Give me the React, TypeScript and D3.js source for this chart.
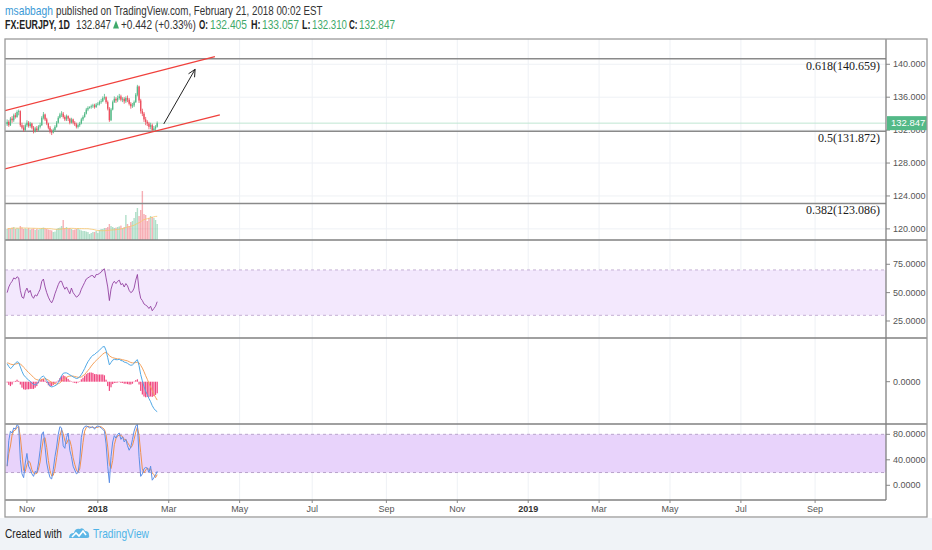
import * as d3 from 'd3';
import React from 'react';

// EURJPY daily bars, weekdays from 2017-10-16 to 2018-02-20
const firstDate = '2017-10-16';
const firstOpen = 132.7;
const closes = [
  133.0, 132.6, 133.4, 133.2, 133.8, 133.6, 134.2, 134.3, 132.6, 132.3,
  132.0, 132.6, 132.9, 132.5, 132.8, 132.3, 131.9, 132.2, 132.0, 132.4,
  132.6, 133.5, 133.9, 133.3, 132.8, 132.3, 131.9, 131.7, 132.0, 132.4,
  132.9, 133.5, 133.9, 134.0, 133.6, 133.3, 133.7, 133.4, 132.9, 133.3,
  132.9, 132.7, 132.4, 132.6, 132.8, 133.3, 133.6, 134.0, 134.5, 134.7,
  134.8, 134.9, 135.0, 134.8, 135.1, 135.2, 135.4, 135.5, 135.9, 136.0,
  135.4, 134.6, 133.2, 134.5, 135.4, 135.8, 135.6, 135.9, 136.1, 135.7,
  135.8, 135.5, 135.9, 135.7, 135.2, 134.9, 135.0, 135.4, 136.3, 137.3,
  135.6, 134.3, 134.0, 133.3, 133.0, 132.8, 132.4, 132.6, 132.0, 132.2,
  132.405, 132.847,
];
const highs = [
  133.3, 133.2, 133.6, 133.7, 134.0, 134.1, 134.4, 134.5, 134.4, 132.9,
  132.6, 132.8, 133.2, 133.1, 133.0, 132.9, 132.5, 132.4, 132.5, 132.6,
  132.9, 133.7, 134.2, 134.0, 133.5, 132.9, 132.5, 132.1, 132.2, 132.6,
  133.1, 133.7, 134.1, 134.3, 134.2, 133.8, 133.9, 133.8, 133.5, 133.5,
  133.4, 133.1, 132.9, 132.8, 133.0, 133.5, 133.8, 134.2, 134.7, 134.9,
  134.9, 135.1, 135.2, 135.2, 135.3, 135.4, 135.6, 135.8, 136.1, 136.4,
  136.1, 135.6, 134.8, 134.7, 135.6, 136.1, 136.0, 136.2, 136.4, 136.3,
  136.0, 136.0, 136.1, 136.2, 135.9, 135.4, 135.3, 135.6, 136.5, 137.5,
  137.4, 135.8, 134.6, 134.2, 133.6, 133.2, 133.0, 132.9, 132.8, 132.5,
  132.6, 133.057,
];
const lows = [
  132.5, 132.4, 132.5, 132.9, 133.0, 133.4, 133.5, 133.8, 132.4, 132.1,
  131.8, 131.9, 132.4, 132.3, 132.3, 132.1, 131.6, 131.7, 131.8, 131.9,
  132.2, 132.5, 133.3, 133.1, 132.6, 132.1, 131.6, 131.4, 131.6, 131.9,
  132.3, 132.8, 133.4, 133.6, 133.4, 133.1, 133.1, 133.1, 132.7, 132.8,
  132.7, 132.5, 132.2, 132.2, 132.4, 132.7, 133.1, 133.5, 133.9, 134.3,
  134.6, 134.6, 134.7, 134.6, 134.7, 135.0, 135.0, 135.2, 135.4, 135.7,
  135.2, 134.4, 133.0, 133.1, 134.4, 135.3, 135.3, 135.4, 135.7, 135.5,
  135.4, 135.2, 135.3, 135.4, 135.0, 134.6, 134.7, 134.8, 135.3, 136.1,
  135.3, 134.0, 133.7, 133.0, 132.6, 132.5, 132.1, 132.1, 131.9, 131.9,
  131.9, 132.31,
];
const volumes = [
  55, 60, 58, 62, 65, 55, 60, 58, 70, 62,
  55, 58, 55, 60, 52, 55, 58, 50, 55, 52,
  55, 60, 62, 58, 55, 52, 50, 48, 40, 42,
  55, 60, 62, 70, 100, 60, 65, 58, 60, 55,
  50, 52, 55, 58, 52, 48, 45, 45, 42, 40,
  30, 35, 40, 40, 45, 35, 50, 55, 55, 60,
  60, 65, 80, 70, 65, 60, 62, 65, 68, 72,
  60, 65, 125, 80, 70, 90, 95, 110, 140, 160,
  120, 150, 245, 130, 125, 95, 110, 120, 115, 110,
  100, 80,
];
const rsi = [
  50, 55, 58, 60, 63, 62, 64, 63, 52, 46,
  45, 51, 54, 50, 52, 47, 45, 48, 47, 50,
  53, 60, 62, 55, 50, 46, 43, 41, 44, 49,
  53, 57, 60, 60, 56, 53, 55, 52, 49, 54,
  50, 48, 46, 47, 49, 53, 56, 59, 62, 63,
  64, 65, 65, 63, 66, 66, 67, 68, 70, 71,
  63, 55, 43, 53, 58, 60, 58, 60, 61, 57,
  58, 55, 58, 56, 52, 50, 51, 54, 61, 66,
  52, 45, 43, 40, 39, 38, 36, 38, 34, 36,
  38, 42,
];
const macdLine = [
  0.45, 0.38, 0.33, 0.36, 0.42, 0.46, 0.5, 0.48, 0.37, 0.26,
  0.17, 0.12, 0.08, 0.04, 0.01, -0.03, -0.07, -0.08, -0.06, 0.0,
  0.08, 0.12, 0.14, 0.1, 0.03, -0.05, -0.11, -0.13, -0.12, -0.1,
  -0.08, -0.02, 0.06, 0.15, 0.21, 0.22, 0.22, 0.2, 0.17, 0.15,
  0.12, 0.1, 0.08, 0.09, 0.12, 0.18, 0.25, 0.33, 0.42, 0.5,
  0.56, 0.62, 0.66, 0.68, 0.72, 0.75, 0.79, 0.83, 0.87, 0.88,
  0.78, 0.6, 0.42, 0.48, 0.54, 0.56, 0.55, 0.55, 0.56, 0.53,
  0.52, 0.49, 0.48, 0.46, 0.43, 0.41, 0.42, 0.46, 0.52, 0.55,
  0.4, 0.18, 0.02, -0.12, -0.24, -0.32, -0.42, -0.5, -0.6, -0.67,
  -0.72, -0.75,
];
const signalLine = [
  0.47, 0.46, 0.44, 0.43, 0.43, 0.44, 0.45, 0.46, 0.44, 0.41,
  0.36, 0.32, 0.27, 0.23, 0.19, 0.15, 0.11, 0.07, 0.05, 0.04,
  0.04, 0.05, 0.07, 0.07, 0.06, 0.04, 0.01, -0.02, -0.04, -0.05,
  -0.06, -0.05, -0.03, 0.01, 0.05, 0.08, 0.11, 0.13, 0.14, 0.14,
  0.14, 0.13, 0.12, 0.11, 0.11, 0.12, 0.15, 0.18, 0.23, 0.28,
  0.33, 0.39, 0.44, 0.49, 0.53, 0.57, 0.61, 0.65, 0.69, 0.72,
  0.73, 0.71, 0.65, 0.62, 0.6, 0.59, 0.58, 0.57, 0.57, 0.56,
  0.55, 0.54, 0.53, 0.52, 0.5, 0.48, 0.47, 0.47, 0.48, 0.49,
  0.47, 0.41, 0.34, 0.25, 0.15, 0.06, -0.04, -0.13, -0.22, -0.31,
  -0.39, -0.46,
];
const stochK = [
  30, 70, 85, 82, 90, 88, 95, 93, 40, 18,
  12, 35, 50, 30, 25, 18, 14, 22, 20, 35,
  55, 80, 84, 60, 35, 22, 12, 10, 25, 45,
  60, 80, 92, 90, 62, 58, 75, 82, 55, 45,
  30, 24, 18, 20, 38, 75, 88, 92, 93, 92,
  90, 91, 92, 88, 92, 93, 92, 90, 88, 85,
  65, 30, 4, 45, 68, 78, 74, 80, 82, 72,
  76, 68, 72, 62, 55, 60, 72, 85, 93, 96,
  45, 14, 18, 26, 28, 27, 20, 30, 8, 12,
  16, 22,
];

const priceTicks = [120, 124, 128, 132, 136, 140];
const rsiTicks = [25, 50, 75];
const rsiBand = [30, 70];
const macdTicks = [0];
const stochTicks = [0, 40, 80];
const stochBand = [20, 80];

const fibLevels = [
  { ratio: '0.618', price: 140.659 },
  { ratio: '0.5', price: 131.872 },
  { ratio: '0.382', price: 123.086 },
];
// drawings anchored on (bar date, price)
const channelLines = [
  [{ date: '2017-10-12', price: 134.33 }, { date: '2018-04-10', price: 140.92 }],
  [{ date: '2017-10-12', price: 127.25 }, { date: '2018-04-13', price: 133.84 }],
];
const arrowLine = [{ date: '2018-02-26', price: 132.75 }, { date: '2018-03-23', price: 139.39 }];

const UP = '#53b987';
const DOWN = '#eb4d5c';

const W = 932;
const H = 550;
const L = 5;
const R = 886;
const RR = 927;
const panes = { main: [39, 240], rsi: [240, 338], macd: [338, 424], stoch: [424, 500] };
const axisBottom = 517;
const FONT = "'Liberation Sans', Arial, sans-serif";

const dayKey = d3.timeFormat('%Y-%m-%d');
const days = d3.timeDay
  .range(new Date(2017, 9, 2), new Date(2019, 11, 1))
  .filter(d => d.getDay() !== 0 && d.getDay() !== 6);
const idxOf = (s: string) => days.findIndex(d => dayKey(d) === s);
const firstBar = idxOf(firstDate);

const opens = closes.map((c, i) => (i === 0 ? firstOpen : closes[i - 1]));
const volMa = volumes.map((_, i) => d3.mean(volumes.slice(Math.max(0, i - 19), i + 1)) as number);
const stochD = stochK.map((_, i) => d3.mean(stochK.slice(Math.max(0, i - 2), i + 1)) as number);
const hist = macdLine.map((m, i) => m - signalLine[i]);

// header/footer text is narrow in the original, squeeze each piece to its width
const measureCtx = document.createElement('canvas').getContext('2d');
const textWidth = (s: string, bold: boolean) => {
  if (!measureCtx) return s.length * 6;
  measureCtx.font = `${bold ? 'bold ' : ''}12px 'Liberation Sans', Arial, sans-serif`;
  return measureCtx.measureText(s).width;
};

type Piece = { text: string; x: number; w: number; fill: string; bold?: boolean };
const Squeezed = ({ p, y }: { p: Piece; y: number }) => (
  <text
    transform={`translate(${p.x},${y}) scale(${p.w / textWidth(p.text, !!p.bold)},1)`}
    fontSize={12}
    fontFamily={FONT}
    fontWeight={p.bold ? 'bold' : 'normal'}
    fill={p.fill}
  >
    {p.text}
  </text>
);

export default function App() {
  const x = d3.scaleLinear().domain([firstBar - 1.3, firstBar + 533]).range([L, R]);
  const bx = (i: number) => x(firstBar + i);
  const yP = d3.scaleLinear().domain([118.65, 143.07]).range([panes.main[1], panes.main[0]]);
  const yV = d3.scaleLinear().domain([0, 250]).range([panes.main[1], panes.main[1] - 50]);
  const yR = d3.scaleLinear().domain([10, 96.4]).range([panes.rsi[1], panes.rsi[0]]);
  const yM = d3.scaleLinear().domain([-1.0575, 1.0925]).range([panes.macd[1], panes.macd[0]]);
  const yS = d3.scaleLinear().domain([-23.1, 96.2]).range([panes.stoch[1], panes.stoch[0]]);

  const monthTicks: { i: number; label: string; bold: boolean }[] = [];
  days.forEach((d, k) => {
    if (k === 0 || d.getMonth() === days[k - 1].getMonth() || d.getMonth() % 2 !== 0) return;
    if (x(k) < L + 10 || x(k) > R - 20) return;
    const jan = d.getMonth() === 0;
    monthTicks.push({ i: k, label: jan ? d3.timeFormat('%Y')(d) : d3.timeFormat('%b')(d), bold: jan });
  });

  const line = (ys: d3.ScaleLinear<number, number>) =>
    d3.line<number>().x((_, i) => bx(i)).y(v => ys(v));

  const fmt3 = d3.format('.3f');
  const n = closes.length - 1;
  const change = closes[n] - closes[n - 1];
  const pct = (change / closes[n - 1]) * 100;
  const green = '#3fa96a';

  const anchor = (p: { date: string; price: number }) => [x(idxOf(p.date)), yP(p.price)];
  const [a0, a1] = arrowLine.map(anchor);
  const ang = Math.atan2(a1[1] - a0[1], a1[0] - a0[0]);
  const head = [ang + Math.PI - 0.45, ang + Math.PI + 0.45].map(t => [a1[0] + 8 * Math.cos(t), a1[1] + 8 * Math.sin(t)]);

  const lastY = yP(closes[n]);
  const gridColor = '#eef1f5';

  const line1: Piece[] = [
    { text: 'msabbagh', x: 5, w: 48, fill: '#3c9ad6' },
    { text: 'published on TradingView.com, February 21, 2018 00:02 EST', x: 56, w: 267, fill: '#333' },
  ];
  const line2: Piece[] = [
    { text: 'FX:EURJPY, 1D', x: 5, w: 65, fill: '#222', bold: true },
    { text: fmt3(closes[n]), x: 76, w: 35, fill: '#333' },
    { text: `+${fmt3(change)} (+${d3.format('.2f')(pct)}%)`, x: 121, w: 75, fill: '#333' },
    { text: 'O:', x: 199, w: 9, fill: '#222', bold: true },
    { text: fmt3(opens[n]), x: 210, w: 37, fill: green },
    { text: 'H:', x: 251, w: 9.5, fill: '#222', bold: true },
    { text: fmt3(highs[n]), x: 262, w: 37, fill: green },
    { text: 'L:', x: 302, w: 8.5, fill: '#222', bold: true },
    { text: fmt3(lows[n]), x: 312, w: 35, fill: green },
    { text: 'C:', x: 349, w: 8.5, fill: '#222', bold: true },
    { text: fmt3(closes[n]), x: 359, w: 36, fill: green },
  ];
  const footer: Piece[] = [
    { text: 'Created with', x: 5, w: 57, fill: '#222' },
    { text: 'TradingView', x: 93, w: 56, fill: '#4fb3e8' },
  ];

  return (
    <svg
      width={W}
      height={H}
      style={{ position: 'absolute', left: 0, top: 0, background: '#fff' }}
      fontFamily={FONT}
    >
      <defs>
        {Object.entries(panes).map(([k, [t, b]]) => (
          <clipPath id={`clip-${k}`} key={k}>
            <rect x={L} y={t} width={R - L} height={b - t} />
          </clipPath>
        ))}
      </defs>

      {/* footer background */}
      <rect x={0} y={axisBottom + 1} width={W} height={H - axisBottom} fill="#f0f3f7" />

      {/* header */}
      {line1.map((p, k) => <Squeezed key={k} p={p} y={15} />)}
      <path d="M113,28.5 L116,20.5 L119,28.5 Z" fill={green} />
      {line2.map((p, k) => <Squeezed key={k} p={p} y={29} />)}

      {/* grid */}
      {monthTicks.map(t => (
        <line key={t.i} x1={x(t.i)} x2={x(t.i)} y1={panes.main[0]} y2={panes.stoch[1]} stroke={gridColor} />
      ))}
      {priceTicks.map(t => (
        <line key={t} x1={L} x2={R} y1={yP(t)} y2={yP(t)} stroke={gridColor} />
      ))}

      {/* main pane */}
      <g clipPath="url(#clip-main)">
        {volumes.map((v, i) => (
          <rect
            key={i}
            x={bx(i) - 0.7}
            width={1.4}
            y={yV(v)}
            height={yV(0) - yV(v)}
            fill={closes[i] >= opens[i] ? UP : DOWN}
            opacity={0.45}
          />
        ))}
        <path d={line(yV)(volMa) || ''} fill="none" stroke="#f7c66b" strokeWidth={1} opacity={0.8} />
        <line x1={L} x2={R} y1={lastY} y2={lastY} stroke="#bfe6d3" strokeWidth={1} />
        {fibLevels.map(f => (
          <g key={f.ratio}>
            <line x1={L} x2={R} y1={yP(f.price)} y2={yP(f.price)} stroke="#8a8a8a" strokeWidth={1.5} />
            <text x={R - 6} y={yP(f.price) + 11} textAnchor="end" fontSize={12} fontFamily="'Liberation Serif', serif" fill="#1a1a1a">
              {`${f.ratio}(${fmt3(f.price)})`}
            </text>
          </g>
        ))}
        {closes.map((c, i) => {
          const o = opens[i];
          const col = c >= o ? UP : DOWN;
          const top = yP(Math.max(o, c));
          const bot = yP(Math.min(o, c));
          return (
            <g key={i}>
              <line x1={bx(i)} x2={bx(i)} y1={yP(highs[i])} y2={yP(lows[i])} stroke={col} strokeWidth={0.8} />
              <rect x={bx(i) - 0.65} width={1.3} y={top} height={Math.max(0.8, bot - top)} fill={col} />
            </g>
          );
        })}
        {channelLines.map((seg, k) => {
          const [p0, p1] = seg.map(anchor);
          return <line key={k} x1={p0[0]} y1={p0[1]} x2={p1[0]} y2={p1[1]} stroke="#f0403c" strokeWidth={1.3} />;
        })}
        <line x1={a0[0]} y1={a0[1]} x2={a1[0]} y2={a1[1]} stroke="#222" strokeWidth={1} />
        <polyline points={`${head[0].join(',')} ${a1.join(',')} ${head[1].join(',')}`} fill="none" stroke="#222" strokeWidth={1} />
      </g>

      {/* RSI */}
      <g clipPath="url(#clip-rsi)">
        <rect x={L} width={R - L} y={yR(rsiBand[1])} height={yR(rsiBand[0]) - yR(rsiBand[1])} fill="#f3e8fd" />
        {rsiBand.map(b => (
          <line key={b} x1={L} x2={R} y1={yR(b)} y2={yR(b)} stroke="#c4b0d4" strokeDasharray="3,3" />
        ))}
        <path d={line(yR)(rsi) || ''} fill="none" stroke="#8e3a9c" strokeWidth={1} opacity={0.85} />
      </g>

      {/* MACD */}
      <g clipPath="url(#clip-macd)">
        {hist.map((h, i) => (
          <rect key={i} x={bx(i) - 0.6} width={1.2} y={Math.min(yM(0), yM(h))} height={Math.abs(yM(h) - yM(0))} fill="#f0457f" />
        ))}
        <path d={line(yM)(signalLine) || ''} fill="none" stroke="#f5a25c" strokeWidth={1} />
        <path d={line(yM)(macdLine) || ''} fill="none" stroke="#4fa8e6" strokeWidth={1} />
      </g>

      {/* Stochastic */}
      <g clipPath="url(#clip-stoch)">
        <rect x={L} width={R - L} y={yS(stochBand[1])} height={yS(stochBand[0]) - yS(stochBand[1])} fill="#e8d3fb" />
        {stochBand.map(b => (
          <line key={b} x1={L} x2={R} y1={yS(b)} y2={yS(b)} stroke="#b9a3cc" strokeDasharray="3,3" />
        ))}
        <path d={line(yS)(stochD) || ''} fill="none" stroke="#f0914e" strokeWidth={1} />
        <path d={line(yS)(stochK) || ''} fill="none" stroke="#5c8fe6" strokeWidth={1} />
      </g>

      {/* right axes */}
      <g fontSize={9} fill="#555">
        {priceTicks.map(t => (
          <g key={t}>
            <line x1={R} x2={R + 4} y1={yP(t)} y2={yP(t)} stroke="#888" />
            <text x={R + 7} y={yP(t)} dy="0.35em">{fmt3(t)}</text>
          </g>
        ))}
        {[
          { ticks: rsiTicks, y: yR },
          { ticks: macdTicks, y: yM },
          { ticks: stochTicks, y: yS },
        ].map((a, k) =>
          a.ticks.map(t => (
            <g key={`${k}-${t}`}>
              <line x1={R} x2={R + 4} y1={a.y(t)} y2={a.y(t)} stroke="#888" />
              <text x={R + 7} y={a.y(t)} dy="0.35em">{d3.format('.4f')(t)}</text>
            </g>
          ))
        )}
      </g>
      <rect x={R + 1} y={lastY - 7} width={RR - R - 1} height={14} fill={UP} />
      <text x={R + 5} y={lastY} dy="0.35em" fontSize={9.5} fill="#fff">{fmt3(closes[n])}</text>

      {/* time axis */}
      <g fontSize={9} fill="#555" textAnchor="middle">
        {monthTicks.map(t => (
          <g key={t.i}>
            <line x1={x(t.i)} x2={x(t.i)} y1={panes.stoch[1]} y2={panes.stoch[1] + 3} stroke="#888" />
            <text x={x(t.i)} y={512} fontWeight={t.bold ? 'bold' : 'normal'} fill={t.bold ? '#333' : '#555'}>{t.label}</text>
          </g>
        ))}
      </g>

      {/* frame and pane separators */}
      <g fill="none">
        {[panes.rsi[0], panes.macd[0], panes.stoch[0]].map(y => (
          <line key={y} x1={L} x2={RR} y1={y} y2={y} stroke="#808080" strokeWidth={1.3} />
        ))}
        <line x1={L} x2={R} y1={panes.stoch[1]} y2={panes.stoch[1]} stroke="#808080" strokeWidth={1.3} />
        <line x1={R} x2={R} y1={panes.main[0]} y2={panes.stoch[1]} stroke="#808080" strokeWidth={1.3} />
        <rect x={L} y={panes.main[0]} width={RR - L} height={axisBottom - panes.main[0]} stroke="#9a9a9a" strokeWidth={1.3} />
      </g>

      {/* footer */}
      {footer.map((p, k) => <Squeezed key={k} p={p} y={538} />)}
      <g transform="translate(69,527)">
        <path d="M0,11 Q0,6 5,6 Q6,1 11,2 Q14,0 16,4 Q20,4 20,8 Q21,11 18,11 Z" fill="#5db7e6" />
        <polyline points="3,10 7,6 10,9 14,4 17,8" fill="none" stroke="#fff" strokeWidth={1.6} />
      </g>
    </svg>
  );
}
